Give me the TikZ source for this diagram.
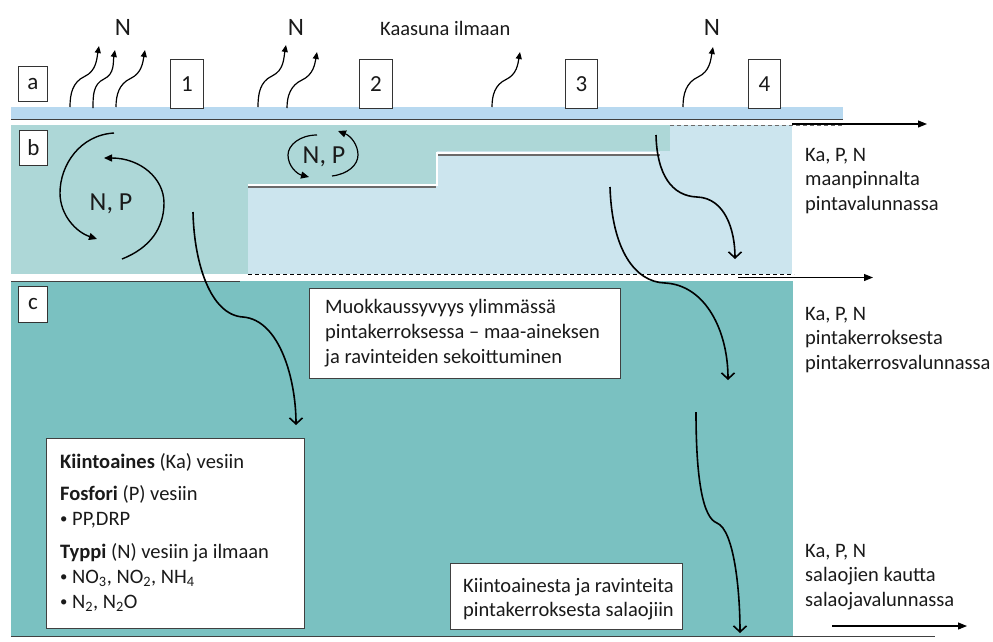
\documentclass[tikz,border=0pt]{standalone}
\usepackage{fontspec}
\usepackage{graphicx}
\setmainfont{Carlito}
\usetikzlibrary{arrows.meta,calc}
\definecolor{bandA}{HTML}{B8D9F0}
\definecolor{tealB}{HTML}{ADD7D7}
\definecolor{blueB}{HTML}{CCE5EE}
\definecolor{tealC}{HTML}{7AC1C1}
\definecolor{lineG}{HTML}{6A6A6A}
\definecolor{ink}{HTML}{1A1A1A}
\newcommand{\smbul}{\raisebox{0.12ex}{\scalebox{0.72}{\textbullet}}\ }
\tikzset{
  txt/.style={inner sep=0pt, anchor=base west, align=left, text=ink, font=\fontsize{20.5}{24.5}\selectfont},
  lbl/.style={draw=black!80, line width=0.8pt, fill=white, inner sep=0pt, anchor=north west, text=ink, font=\fontsize{23}{23}\selectfont},
  wbox/.style={draw=black!75, line width=1pt, fill=white, anchor=north west, inner sep=0pt},
  gas/.style={line width=1.2pt, -{Triangle[length=7pt,width=6pt]}},
  circ/.style={line width=1.4pt, -{Triangle[length=8pt,width=7pt]}},
  drop/.style={line width=1.6pt, -{Straight Barb[length=6pt,width=13pt]}},
  flow/.style={line width=1.1pt, -{Triangle[length=9pt,width=7pt]}},
}
\begin{document}
\begin{tikzpicture}[x=1pt,y=-1pt]
\useasboundingbox (0,0) rectangle (993,641);
\fill[white] (0,0) rectangle (993,641);

% ---- layer a
\fill[bandA] (11,107) rectangle (843,119);
\draw[black!75, line width=1.2pt] (11,119.5) -- (843,119.5);

% ---- layer b
\fill[blueB] (248,125) rectangle (792,274);
\fill[tealB] (11,125) rectangle (248,274);
\fill[tealB] (248,125) rectangle (437,184);
\fill[tealB] (437,125) rectangle (670,151);
\draw[white, line width=2pt] (248,184.5) -- (437,184.5) -- (437,152.5) -- (660,152.5);
\draw[lineG, line width=1.6pt] (248,186.8) -- (436,186.8);
\draw[lineG, line width=1.6pt] (438,154.8) -- (660,154.8);
\draw[lineG, line width=1pt, dash pattern=on 4pt off 3pt] (670,125.5) -- (843,125.5);
\draw[black, line width=0.9pt, dash pattern=on 4pt off 3pt] (248,274) -- (794,274);

% ---- layer c
\fill[tealC] (11,281) rectangle (793,636);
\draw[black!75, line width=1pt] (11,281) -- (240,281);
\draw[black!75, line width=1.3pt] (11,636.5) -- (935,636.5);

% ---- flow arrows
\coordinate (f1s) at (792,124);  \coordinate (f1e) at (927,124);
\coordinate (f2s) at (738,277.5);\coordinate (f2e) at (873,277.5);
\coordinate (f3s) at (832,626);  \coordinate (f3e) at (967,626);
\draw[flow] (f1s) -- (f1e);
\draw[flow] (f2s) -- (f2e);
\draw[flow] (f3s) -- (f3e);

% ---- labels
\node[lbl, minimum width=29pt, minimum height=35pt] (la) at (18,66) {a};
\node[lbl, minimum width=28pt, minimum height=35pt] (lb) at (19,130) {b};
\node[lbl, minimum width=29pt, minimum height=36pt] (lc) at (18,286) {c};
\node[lbl, minimum width=33pt, minimum height=49pt] (l1) at (170,59) {1};
\node[lbl, minimum width=33pt, minimum height=49pt] (l2) at (359,59) {2};
\node[lbl, minimum width=32pt, minimum height=49pt] (l3) at (565,59) {3};
\node[lbl, minimum width=32pt, minimum height=49pt] (l4) at (748,59) {4};

% ---- top texts
\node[txt, anchor=base, font=\fontsize{25}{25}\selectfont] (n1) at (123,35) {N};
\node[txt, anchor=base, font=\fontsize{25}{25}\selectfont] (n2) at (296,35) {N};
\node[txt, anchor=base, font=\fontsize{25}{25}\selectfont] (n3) at (712,35) {N};
\node[txt] (kaasu) at (380,35) {Kaasuna ilmaan};

% ---- gas arrows
\foreach \i/\sx/\sy/\tx/\ty in {1/70/107/99/46, 2/93/108/115/50, 3/116/107/145/50, 4/258/107/286/45, 5/287/108/317/52, 6/492/107/520/52, 7/683/107/713/47}{
  \coordinate (g\i s) at (\sx,\sy);
  \coordinate (g\i t) at (\tx,\ty);
  \draw[gas] (g\i s) to[out=90,in=205] ($(g\i s)!0.5!(g\i t)$) to[out=25,in=-100] (g\i t);
}

% ---- N, P cycles
\node[txt, anchor=base, font=\fontsize{26}{26}\selectfont] (np1) at (111,210) {N, P};
\node[txt, anchor=base, font=\fontsize{26}{26}\selectfont] (np2) at (324,163) {N, P};
\coordinate (c1a) at (114,133); \coordinate (c1b) at (97,239);
\coordinate (c2a) at (122,259); \coordinate (c2b) at (104,158);
\draw[circ] (c1a) .. controls (80,135) and (60,165) .. (60,193) .. controls (60,215) and (76,232) .. (c1b);
\draw[circ] (c2a) .. controls (150,248) and (164,228) .. (164,203) .. controls (164,178) and (140,158) .. (c2b);
\coordinate (c3a) at (317,135); \coordinate (c3b) at (309,177);
\coordinate (c4a) at (332,176); \coordinate (c4b) at (338,131);
\draw[circ, line width=1.2pt] (c3a) .. controls (300,135) and (288,145) .. (288,155) .. controls (288,166) and (297,174) .. (c3b);
\draw[circ, line width=1.2pt] (c4a) .. controls (348,174) and (358,165) .. (358,155) .. controls (358,145) and (351,136) .. (c4b);

% ---- white boxes (text nodes anchored at the baseline of their last line)
\node[wbox, minimum width=311pt, minimum height=90pt] (muok) at (309,288) {};
\node[txt, font=\fontsize{20.5}{25}\selectfont] (muoktxt) at (325,363) {Muokkaussyvyys ylimmässä\\pintakerroksessa – maa-aineksen\\ja ravinteiden sekoittuminen};
\node[wbox, minimum width=258pt, minimum height=190pt] (kiin) at (46,438) {};
\node[txt, font=\fontsize{20.5}{25}\selectfont] (kiintxt) at (60,608) {\textbf{Kiintoaines} (Ka) vesiin\\[7pt]\textbf{Fosfori} (P) vesiin\\\smbul PP,DRP\\[8pt]\textbf{Typpi} (N) vesiin ja ilmaan\\\smbul NO\textsubscript{3}, NO\textsubscript{2}, NH\textsubscript{4}\\\smbul N\textsubscript{2}, N\textsubscript{2}O};
\node[wbox, minimum width=232pt, minimum height=66pt] (sala) at (450,563) {};
\node[txt, font=\fontsize{20.5}{24}\selectfont] (salatxt) at (463,616) {Kiintoainesta ja ravinteita\\pintakerroksesta salaojiin};

% ---- downward arrows
\coordinate (d1s) at (193,212); \coordinate (d1e) at (296,425);
\coordinate (d2s) at (656,135); \coordinate (d2e) at (735,259);
\coordinate (d3s) at (610,187); \coordinate (d3e) at (728,380);
\coordinate (d4s) at (696,412); \coordinate (d4e) at (740,633);
\draw[drop] (d1s) .. controls (194,262) and (210,315) .. (243,317) .. controls (280,320) and (296,380) .. (d1e);
\draw[drop] (d2s) .. controls (657,175) and (672,196) .. (697,197) .. controls (725,198) and (735,230) .. (d2e);
\draw[drop] (d3s) .. controls (612,250) and (635,282) .. (665,283) .. controls (705,285) and (728,330) .. (d3e);
\draw[drop] (d4s) .. controls (696,480) and (703,518) .. (717,523) .. controls (734,530) and (740,590) .. (d4e);

% ---- right texts
\node[txt] (r1) at (805,210) {Ka, P, N\\maanpinnalta\\pintavalunnassa};
\node[txt] (r2) at (805,369) {Ka, P, N\\pintakerroksesta\\pintakerrosvalunnassa};
\node[txt] (r3) at (805,606) {Ka, P, N\\salaojien kautta\\salaojavalunnassa};
\end{tikzpicture}
\end{document}
